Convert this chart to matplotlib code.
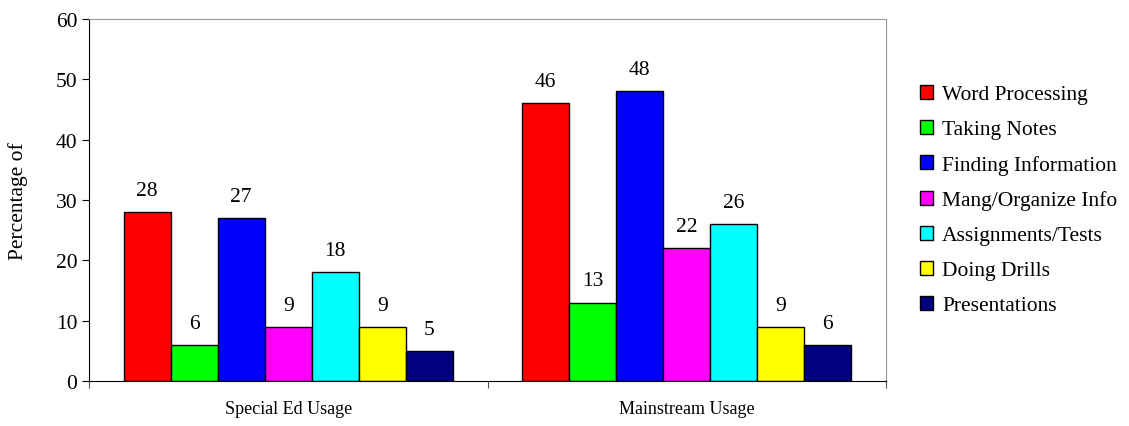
import numpy as np
import matplotlib.pyplot as plt

plt.rcParams['font.family'] = ['Liberation Serif', 'DejaVu Serif']

# Data
groups = ["Special Ed Usage", "Mainstream Usage"]
series = ["Word Processing", "Taking Notes", "Finding Information",
          "Mang/Organize Info", "Assignments/Tests", "Doing Drills", "Presentations"]
special_ed = [28, 6, 27, 9, 18, 9, 5]
mainstream = [46, 13, 48, 22, 26, 9, 6]
colors = ["#ff0000", "#00ff00", "#0000ff", "#ff00ff", "#00ffff", "#ffff00", "#000080"]

fig = plt.figure(figsize=(11.29, 4.27), dpi=100)
ax = fig.add_axes([89 / 1129, 45 / 427, 797 / 1129, 362 / 427])

x = np.arange(len(groups))
w = 0.118
n = len(series)
for i, name in enumerate(series):
    vals = [special_ed[i], mainstream[i]]
    pos = x + (i - (n - 1) / 2) * w
    bars = ax.bar(pos, vals, width=w, color=colors[i], edgecolor="black",
                  linewidth=1, label=name)
    for b, v in zip(bars, vals):
        ax.text(b.get_x() + b.get_width() / 2, v + 2.0, str(v),
                ha="center", va="bottom", fontsize=15.5)

ax.set_xlim(-0.5, 1.5)
ax.set_ylim(0, 60)
ax.set_yticks(range(0, 61, 10))
ax.set_xticks([-0.5, 0.5, 1.5])
ax.set_xticklabels([])
ax.set_xticks(x, minor=True)
ax.set_xticklabels(groups, minor=True, fontsize=13)
ax.tick_params(axis="x", which="minor", length=0, pad=14)
ax.tick_params(axis="x", which="major", length=5, direction="out", color="#555555")
ax.tick_params(axis="y", length=5, direction="out", labelsize=15.5)
ax.set_ylabel("Percentage of", fontsize=15.5)
ax.yaxis.set_label_coords(-0.076, 0.5)

ax.spines["top"].set_color("#999999")
ax.spines["right"].set_color("#999999")
ax.spines["left"].set_color("black")
ax.spines["bottom"].set_color("black")

handles, labels = ax.get_legend_handles_labels()
fig.legend(handles, labels, loc="center left", bbox_to_anchor=(920 / 1129, 0.529),
           frameon=False, fontsize=15.5, handlelength=0.62, handleheight=0.62,
           handletextpad=0.4, labelspacing=0.72, borderpad=0, borderaxespad=0)

plt.savefig("out.png", dpi=100)
